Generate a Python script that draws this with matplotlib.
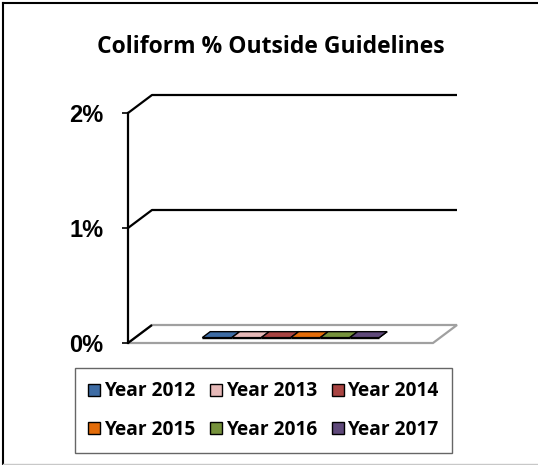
import matplotlib
matplotlib.use("Agg")
import matplotlib.pyplot as plt
from matplotlib.patches import Polygon, Patch
from matplotlib.lines import Line2D
from matplotlib.transforms import IdentityTransform

# ---------------- data ----------------
title = "Coliform % Outside Guidelines"
series = ["Year 2012", "Year 2013", "Year 2014", "Year 2015", "Year 2016", "Year 2017"]
values = [0, 0, 0, 0, 0, 0]
colors = ["#3E6CA4", "#E6B9B8", "#A84442", "#E36C09", "#76923C", "#5F497A"]
yticks = [0, 1, 2]
ytick_labels = ["0%", "1%", "2%"]

W, H = 538, 465
DPI = 100
fig = plt.figure(figsize=(W / DPI, H / DPI), dpi=DPI)

# front plane of the pseudo-3D plot
ax = fig.add_axes([128 / W, 1 - 343 / H, 305 / W, 230 / H])
ax.set_xlim(-0.5, 0.5)
ax.set_ylim(0, 2)
ax.patch.set_alpha(0)
for s in ["top", "right", "bottom"]:
    ax.spines[s].set_visible(False)
ax.spines["left"].set_linewidth(1.6)
ax.spines["left"].set_color("black")
ax.set_xticks([])
ax.set_yticks(yticks)
ax.set_yticklabels(ytick_labels, fontsize=17, fontweight="bold",
                   family=["Liberation Sans", "DejaVu Sans"])
ax.tick_params(axis="y", direction="out", length=4.5, width=1.2, pad=13, colors="black")

DX, DY = 24, 18  # depth offset in pixels
ident = IdentityTransform()


def P(x, y, d):
    px, py = ax.transData.transform((x, y))
    return (px + d * DX, py + d * DY)


x0, x1 = ax.get_xlim()

# floor
floor = Polygon([P(x0, 0, 0), P(x1, 0, 0), P(x1, 0, 1), P(x0, 0, 1)], closed=True,
                facecolor="white", edgecolor="#A0A0A0", linewidth=1.6,
                transform=ident, clip_on=False, zorder=1)
ax.add_artist(floor)

# gridlines on side + back wall
for v in yticks:
    if v == 0:
        pts = [P(x0, v, 0), P(x0, v, 1)]
    else:
        pts = [P(x0, v, 0), P(x0, v, 1), P(x1, v, 1)]
    xs, ys = zip(*pts)
    ax.add_artist(Line2D(xs, ys, color="black", linewidth=1.6, transform=ident,
                         clip_on=False, zorder=2, solid_capstyle="butt"))

# bars (one category, six series)
group = 0.58
center = 0.01
bw = group / len(series)
d0, d1 = 0.30, 0.63
for i, (v, c) in enumerate(zip(values, colors)):
    xl = center - group / 2 + i * bw
    xr = xl + bw
    front = Polygon([P(xl, 0, d0), P(xr, 0, d0), P(xr, v, d0), P(xl, v, d0)], closed=True,
                    facecolor=c, edgecolor="black", linewidth=1.0, transform=ident,
                    clip_on=False, zorder=3)
    side = Polygon([P(xr, 0, d0), P(xr, v, d0), P(xr, v, d1), P(xr, 0, d1)], closed=True,
                   facecolor=c, edgecolor="black", linewidth=1.0, transform=ident,
                   clip_on=False, zorder=3)
    top = Polygon([P(xl, v, d0), P(xr, v, d0), P(xr, v, d1), P(xl, v, d1)], closed=True,
                  facecolor=c, edgecolor="black", linewidth=1.0, transform=ident,
                  clip_on=False, zorder=4)
    for p in (front, side, top):
        ax.add_artist(p)

# title
fig.text(270.5 / W, 1 - 47 / H, title, ha="center", va="center", fontsize=16.5,
         fontweight="bold", family=["Open Sans", "DejaVu Sans"])

# legend (row-major order like the reference: reorder for matplotlib's column fill)
ncol = 3
nrow = (len(series) + ncol - 1) // ncol
order = [r * ncol + c for c in range(ncol) for r in range(nrow)]
handles = [Patch(facecolor=colors[k], edgecolor="black", linewidth=1.0) for k in order]
labels = [series[k] for k in order]
leg = fig.legend(handles, labels, ncol=ncol, loc="upper left",
                 bbox_to_anchor=(75 / W, 1 - 368 / H - 0.01, 377 / W, 0.01), mode="expand",
                 prop={"family": ["Open Sans", "DejaVu Sans"], "weight": "bold", "size": 13.8},
                 handlelength=0.6, handleheight=0.6, handletextpad=0.2,
                 labelspacing=0.95, borderpad=0.7, borderaxespad=0, columnspacing=0.4,
                 frameon=True, fancybox=False, edgecolor="#404040")
leg.get_frame().set_linewidth(1.0)

# outer chart border (top/left dark, bottom light)
fig.add_artist(Line2D([2.5, W], [H - 2.5, H - 2.5], color="black", linewidth=1.5, transform=ident))
fig.add_artist(Line2D([2.5, 2.5], [0, H - 2.5], color="black", linewidth=1.5, transform=ident))
fig.add_artist(Line2D([2.5, W], [1.5, 1.5], color="#C8C8C8", linewidth=1.0, transform=ident))

fig.savefig("out.png", dpi=DPI)
